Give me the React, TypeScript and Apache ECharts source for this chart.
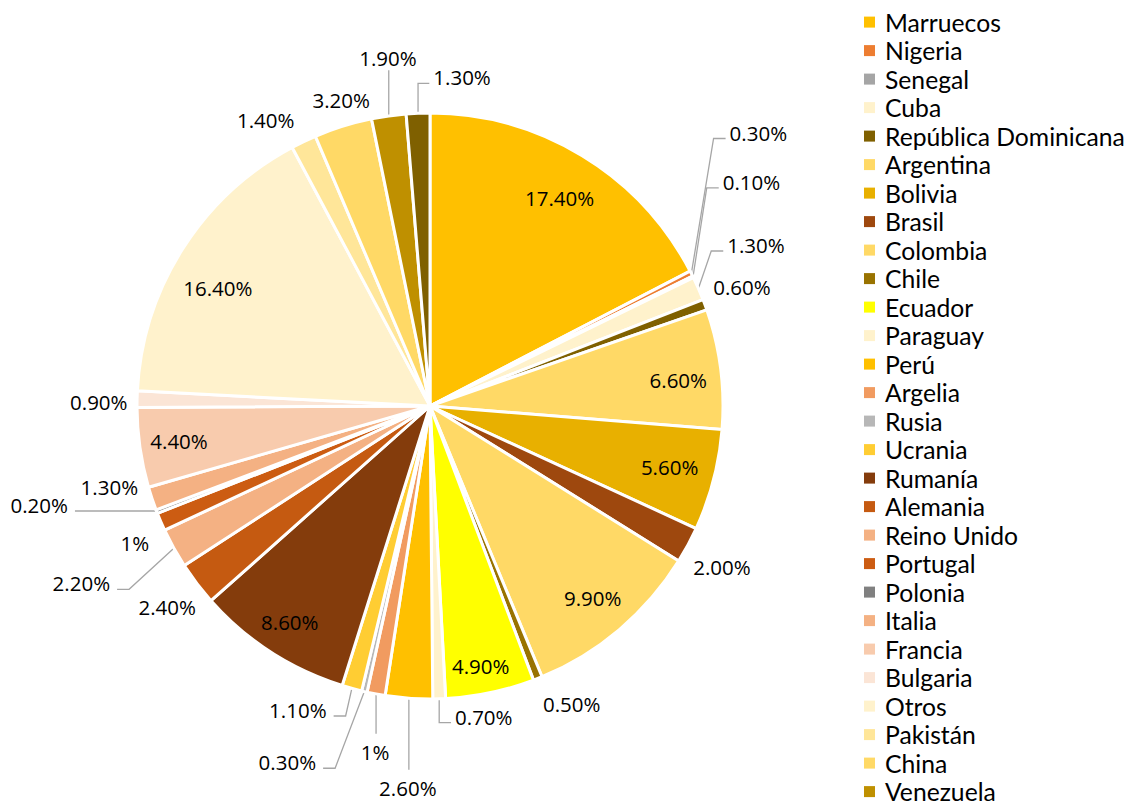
import React, { useEffect, useRef } from 'react';
import * as echarts from 'echarts';

// ---- data ----
const countries = [
  'Marruecos', 'Nigeria', 'Senegal', 'Cuba', 'República Dominicana', 'Argentina', 'Bolivia',
  'Brasil', 'Colombia', 'Chile', 'Ecuador', 'Paraguay', 'Perú', 'Argelia', 'Rusia', 'Ucrania',
  'Rumanía', 'Alemania', 'Reino Unido', 'Portugal', 'Polonia', 'Italia', 'Francia', 'Bulgaria',
  'Otros', 'Pakistán', 'China', 'Venezuela', 'India',
];
const shares = [
  17.4, 0.3, 0.1, 1.3, 0.6, 6.6, 5.6, 2.0, 9.9, 0.5, 4.9, 0.7, 2.6, 1.0, 0.3, 1.1,
  8.6, 2.4, 2.2, 1.0, 0.2, 1.3, 4.4, 0.9, 16.4, 1.4, 3.2, 1.9, 1.3,
];
const shareLabels = [
  '17.40%', '0.30%', '0.10%', '1.30%', '0.60%', '6.60%', '5.60%', '2.00%', '9.90%', '0.50%',
  '4.90%', '0.70%', '2.60%', '1%', '0.30%', '1.10%', '8.60%', '2.40%', '2.20%', '1%', '0.20%',
  '1.30%', '4.40%', '0.90%', '16.40%', '1.40%', '3.20%', '1.90%', '1.30%',
];
const legendNames = countries.slice(0, 28);

// ---- styles ----
const colors = [
  '#FFC000', '#ED7D31', '#A5A5A5', '#FFF2CC', '#7F6000', '#FFD966', '#E8B000', '#9E480E',
  '#FFD966', '#997300', '#FFFF00', '#FFF2CC', '#FFC000', '#F19B60', '#B7B7B7', '#FFCD33',
  '#843C0C', '#C55A11', '#F4B183', '#CC5C12', '#808080', '#F4B183', '#F8CBAD', '#FBE5D6',
  '#FFF2CC', '#FFE699', '#FFD966', '#BF9000', '#7F6000',
];

type Place = { pos: 'in' | 'out'; dx: number; dy: number; line?: 'none' | 'elbow' | 'corner' | 'up' | 'down' };
// label nudges (like manually placed labels in the original)
const labelPlacement: Place[] = [
  { pos: 'in', dx: 52, dy: -80 },
  { pos: 'out', dx: 67, dy: -141, line: 'elbow' },
  { pos: 'out', dx: 58.5, dy: -95, line: 'elbow' },
  { pos: 'out', dx: 57.6, dy: -43.5, line: 'elbow' },
  { pos: 'out', dx: 37, dy: -18, line: 'none' },
  { pos: 'in', dx: 100, dy: -7 },
  { pos: 'in', dx: 95, dy: 23 },
  { pos: 'out', dx: 34, dy: 22, line: 'none' },
  { pos: 'in', dx: 66, dy: 78 },
  { pos: 'out', dx: 34, dy: 25.5, line: 'none' },
  { pos: 'in', dx: 20, dy: 114 },
  { pos: 'out', dx: 44.6, dy: 17.8, line: 'corner' },
  { pos: 'out', dx: -1, dy: 89.5, line: 'down' },
  { pos: 'out', dx: -1, dy: 57.7, line: 'down' },
  { pos: 'out', dx: -77, dy: 70.7, line: 'elbow' },
  { pos: 'out', dx: -54, dy: 21.6, line: 'elbow' },
  { pos: 'in', dx: -59, dy: 90 },
  { pos: 'out', dx: -29.7, dy: 23.1, line: 'none' },
  { pos: 'out', dx: -92.5, dy: 35.1, line: 'elbow' },
  { pos: 'out', dx: -26.1, dy: 21.4, line: 'none' },
  { pos: 'out', dx: -117.5, dy: -6.6, line: 'corner' },
  { pos: 'out', dx: -42.7, dy: -11.3, line: 'none' },
  { pos: 'in', dx: -103, dy: 14 },
  { pos: 'out', dx: -38.3, dy: 2.6, line: 'none' },
  { pos: 'in', dx: -86, dy: -38 },
  { pos: 'out', dx: -38, dy: -21.6, line: 'none' },
  { pos: 'out', dx: -1.8, dy: -26.2, line: 'none' },
  { pos: 'out', dx: -0.8, dy: -57.6, line: 'up' },
  { pos: 'out', dx: 44, dy: -35.9, line: 'corner' },
];

const FONT = "'Open Sans', 'Noto Sans', sans-serif";
const LEGEND_FONT = "Lato, 'Open Sans', sans-serif";
const LEGEND_FONT_SIZE = 24.7;

export default function App() {
  const ref = useRef<HTMLDivElement>(null);
  useEffect(() => {
    if (!ref.current) return;
    const chart = echarts.init(ref.current, undefined, { renderer: 'svg' });
    const data = countries.map((name, i) => {
      const p = labelPlacement[i];
      return {
        name,
        value: shares[i],
        itemStyle: { color: colors[i] },
        label: { position: p.pos === 'in' ? 'inside' : 'outside' },
        labelLine: { show: p.pos === 'out' },
      };
    });
    chart.setOption({
      animation: false,
      backgroundColor: '#ffffff',
      textStyle: { fontFamily: FONT },
      legend: {
        data: legendNames,
        orient: 'vertical',
        left: 864,
        top: 9.6,
        height: 1200,
        padding: 0,
        itemWidth: 11,
        itemHeight: 11,
        itemGap: 3.5,
        icon: 'rect',
        selectedMode: false,
        itemStyle: { borderWidth: 0 },
        textStyle: {
          fontFamily: LEGEND_FONT,
          fontSize: LEGEND_FONT_SIZE,
          color: '#000',
          padding: [0, 0, 0, 5],
        },
      },
      series: [
        {
          type: 'pie',
          center: [430, 406],
          radius: 293,
          startAngle: 90,
          clockwise: true,
          avoidLabelOverlap: false,
          emphasis: { disabled: true },
          itemStyle: { borderColor: '#ffffff', borderWidth: 3 },
          label: {
            show: true,
            fontFamily: FONT,
            fontSize: 20.5,
            color: '#000',
            formatter: (p: any) => shareLabels[p.dataIndex],
          },
          labelLine: {
            length: 10,
            length2: 10,
            smooth: false,
            lineStyle: { color: '#A6A6A6', width: 1.3 },
          },
          labelLayout: (params: any) => {
            const i = params.dataIndex;
            const p = labelPlacement[i];
            const rect = params.labelRect;
            if (!p) return {};
            if (p.pos === 'in') {
              return {
                x: rect.x + rect.width / 2 + p.dx,
                y: rect.y + rect.height / 2 + p.dy,
                align: 'center',
                verticalAlign: 'middle',
              };
            }
            const pts = params.labelLinePoints;
            if (!pts || !pts[0]) return {};
            const a = pts[0];
            const x = a[0] + p.dx;
            const y = a[1] + p.dy;
            const w = rect.width;
            const right = x > a[0];
            const edge = right ? x - w / 2 : x + w / 2;
            const sgn = right ? -1 : 1;
            const ly = y + 6;
            let line: number[][];
            switch (p.line) {
              case 'elbow':
                line = [a, [edge + sgn * (right ? 16 : 19), ly], [edge + sgn * (right ? 4 : 7), ly]];
                break;
              case 'corner':
                line = [a, [a[0], ly], [edge + sgn * (right ? 4 : 7), ly]];
                break;
              case 'down':
                line = [a, [a[0], y - 18]];
                break;
              case 'up':
                line = [a, [a[0], y + 12]];
                break;
              default:
                line = [a, a];
            }
            return { x, y, align: 'center', verticalAlign: 'middle', labelLinePoints: line };
          },
          data,
        },
      ],
    });
    return () => chart.dispose();
  }, []);
  return (
    <div
      ref={ref}
      style={{ position: 'fixed', left: 0, top: 0, width: 1125, height: 805, background: '#fff' }}
    />
  );
}
